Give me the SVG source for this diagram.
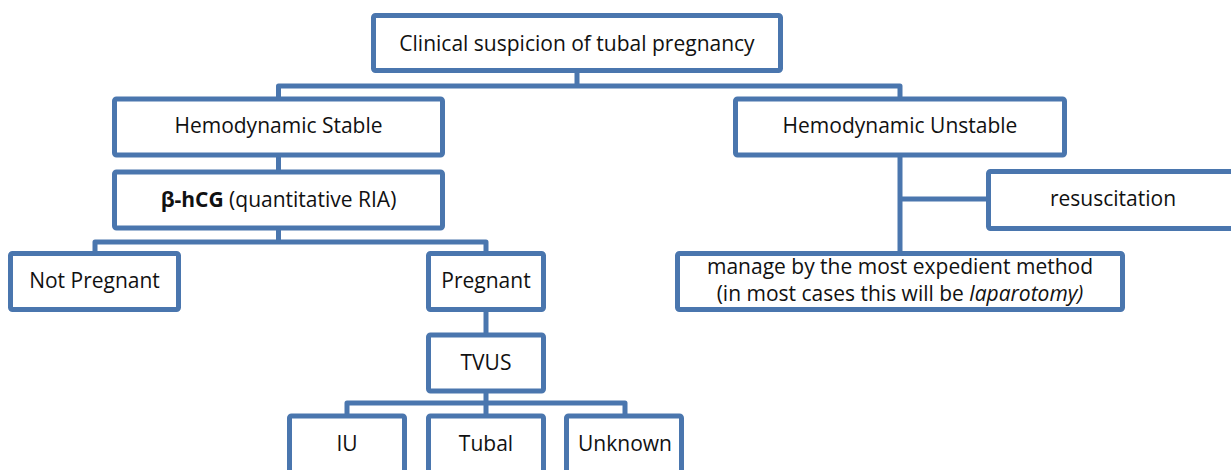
<svg xmlns="http://www.w3.org/2000/svg" width="1231" height="470" viewBox="0 0 1231 470">
<style>
.box{fill:#fff;stroke:#4a76ae;stroke-width:5}
.con{fill:none;stroke:#4a76ae;stroke-width:5;stroke-linejoin:round}
text{font-family:"Open Sans","Liberation Sans",sans-serif;font-size:21px;fill:#111;text-anchor:middle}
</style>
<rect width="1231" height="470" fill="#fff"/>
<g id="connectors">
<path class="con" d="M577 71V86M278.5 99V86H900V99"/>
<path class="con" d="M278.5 155V172"/>
<path class="con" d="M278.5 228V242M95 253.5V242H486V253.5"/>
<path class="con" d="M486 309.5V335"/>
<path class="con" d="M486 391V403M347 416V403H625V416M486 403V416"/>
<path class="con" d="M900 155V253.5M900 199H988.5"/>
</g>
<g id="n-root"><rect class="box" x="373.5" y="15.5" width="407" height="55" rx="2"/><text x="577" y="51">Clinical suspicion of tubal pregnancy</text></g>
<g id="n-stable"><rect class="box" x="114.5" y="99" width="328" height="56" rx="2"/><text x="278.5" y="133">Hemodynamic Stable</text></g>
<g id="n-hcg"><rect class="box" x="114.5" y="172" width="328" height="56" rx="2"/><text x="278.5" y="207"><tspan font-weight="bold">β-hCG</tspan> (quantitative RIA)</text></g>
<g id="n-notpreg"><rect class="box" x="10.5" y="253.5" width="168" height="56" rx="2"/><text x="94.5" y="288">Not Pregnant</text></g>
<g id="n-preg"><rect class="box" x="428.5" y="253.5" width="115" height="56" rx="2"/><text x="486" y="288">Pregnant</text></g>
<g id="n-tvus"><rect class="box" x="428.5" y="335" width="115" height="56" rx="2"/><text x="486" y="370">TVUS</text></g>
<g id="n-iu"><rect class="box" x="289.5" y="416" width="115" height="70" rx="2"/><text x="347" y="451">IU</text></g>
<g id="n-tubal"><rect class="box" x="428.5" y="416" width="115" height="70" rx="2"/><text x="486" y="451">Tubal</text></g>
<g id="n-unknown"><rect class="box" x="566.5" y="416" width="115" height="70" rx="2"/><text x="625" y="451">Unknown</text></g>
<g id="n-unstable"><rect class="box" x="735.5" y="99" width="329" height="56" rx="2"/><text x="900" y="133">Hemodynamic Unstable</text></g>
<g id="n-resus"><rect class="box" x="988.5" y="171.5" width="260" height="57" rx="2"/><text x="1113" y="206">resuscitation</text></g>
<g id="n-manage"><rect class="box" x="677.5" y="253.5" width="445" height="56" rx="2"/><text x="900" y="274">manage by the most expedient method</text><text x="900" y="301">(in most cases this will be <tspan font-style="italic">laparotomy)</tspan></text></g>
</svg>
